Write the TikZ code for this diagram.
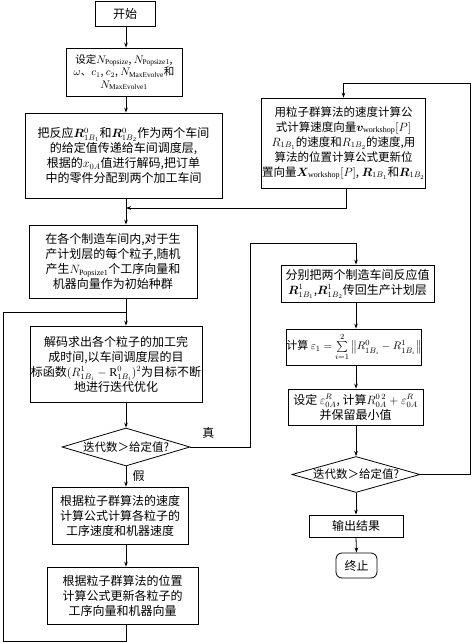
\documentclass[tikz,border=0pt]{standalone}
\usepackage{amsmath}
\usepackage{bm}
\usepackage{fontspec}
\setmainfont{Liberation Serif}
\newfontfamily\cjk{Noto Sans CJK SC}
\usetikzlibrary{shapes.geometric,arrows.meta}
\begin{document}
\begin{tikzpicture}[x=1pt,y=-1pt,
  box/.style={draw,line width=0.8pt,rectangle,inner sep=1pt,align=center,
    font=\cjk\fontsize{12}{15}\selectfont},
  dia/.style={draw,line width=0.8pt,diamond,aspect=3.4,inner sep=0pt,align=center,
    font=\cjk\fontsize{11.5}{14}\selectfont},
  rnd/.style={draw,line width=0.8pt,rectangle,rounded corners=6pt,inner sep=1pt,
    font=\cjk\fontsize{12}{15}\selectfont},
  arr/.style={line width=0.8pt,-{Stealth[length=5pt,width=3.6pt]}},
  ln/.style={line width=0.8pt},
  lab/.style={font=\cjk\fontsize{12}{14}\selectfont}]
\useasboundingbox (0,0) rectangle (473,643);

% left column
\node[box,minimum width=60,minimum height=25] (start) at (125,13.5) {开始};
\node[box,minimum width=116,minimum height=48,font=\cjk\fontsize{10.5}{12.5}\selectfont] (b2) at (124,72) {设定$N_{\mathrm{Popsize}}$, $N_{\mathrm{Popsize1}}$,\\$\omega$、$c_1$, $c_2$, $N_{\mathrm{MaxEvolve}}$和\\$N_{\mathrm{MaxEvolve1}}$};
\node[box,minimum width=197,minimum height=85] (b3) at (123.5,155.5) {把反应$\bm{R}^0_{1B_1}$和$\bm{R}^0_{1B_2}$作为两个车间\\的给定值传递给车间调度层,\\根据的$x_{0A}$值进行解码,把订单\\中的零件分配到两个加工车间};
\node[box,minimum width=168,minimum height=73] (b4) at (113,261.5) {在各个制造车间内,对于生\\产计划层的每个粒子,随机\\产生$N_{\mathrm{Popsize1}}$个工序向量和\\机器向量作为初始种群};
\node[box,minimum width=166,minimum height=76] (b5) at (116,364) {解码求出各个粒子的加工完\\成时间,以车间调度层的目\\标函数$(R^1_{1B_i}-\mathrm{R}^0_{1B_i})^2$为目标不断\\地进行迭代优化};
\node[dia,minimum width=128,minimum height=38] (d1) at (126,447) {迭代数＞给定值?};
\node[box,minimum width=136,minimum height=57] (b6) at (120,515.5) {根据粒子群算法的速度\\计算公式计算各粒子的\\工序速度和机器速度};
\node[box,minimum width=151,minimum height=57] (b7) at (122.5,595.5) {根据粒子群算法的位置\\计算公式更新各粒子的\\工序向量和机器向量};

% right column
\node[box,minimum width=157,minimum height=90,font=\cjk\fontsize{11.5}{15}\selectfont] (r0) at (343.5,143) {用粒子群算法的速度计算公\\式计算速度向量$\bm{v}_{\mathrm{workshop}}[P]$\\$R_{1B_1}$的速度和$R_{1B_2}$的速度,用\\算法的位置计算公式更新位\\置向量$\bm{X}_{\mathrm{workshop}}[P]$, $\bm{R}_{1B_1}$和$\bm{R}_{1B_2}$};
\node[box,minimum width=153,minimum height=37] (r1) at (357.5,283.5) {分别把两个制造车间反应值\\$\bm{R}^1_{1B_1}$,$\bm{R}^1_{1B_2}$传回生产计划层};
\node[box,minimum width=124,minimum height=36,inner sep=0pt,font=\cjk\fontsize{11}{13}\selectfont] (r2) at (354,347) {计算 $\varepsilon_1=\sum\limits_{i=1}^{2}\left\|R^0_{1B_i}-R^1_{1B_i}\right\|$};
\node[box,minimum width=135,minimum height=36] (r3) at (355.5,407) {设定 $\varepsilon^R_{0A}$, 计算$R^{0\,2}_{0A}+\varepsilon^R_{0A}$\\并保留最小值};
\node[dia,minimum width=128,minimum height=35] (d2) at (356,474.5) {迭代数＞给定值?};
\node[box,minimum width=94,minimum height=22] (out) at (356,526) {输出结果};
\node[rnd,minimum width=41,minimum height=25] (end) at (356.5,565.5) {终止};

% coordinates
\coordinate (cl) at (126,0);
\coordinate (cr) at (356,0);
\coordinate (j1) at (126,208);
\coordinate (j2) at (126,312);
\coordinate (l1) at (126,641);
\coordinate (l2) at (3,641);
\coordinate (l3) at (3,312);
\coordinate (t1) at (250,447);
\coordinate (t2) at (250,243);
\coordinate (t3) at (356,243);
\coordinate (s1) at (346,208);
\coordinate (g1) at (470,474.5);
\coordinate (g2) at (470,83);
\coordinate (g3) at (r0.north |- g2);

% left connectors
\draw[arr] (start.south -| cl) -- (b2.north -| cl);
\draw[arr] (b2.south -| cl) -- (b3.north -| cl);
\draw[arr] (b3.south -| cl) -- (b4.north -| cl);
\draw[arr] (b4.south -| cl) -- (b5.north -| cl);
\draw[arr] (b5.south -| cl) -- (d1.north);
\draw[arr] (d1.south) -- (b6.north -| d1.south) node[lab,pos=0.45,right=3pt] {假};
\draw[arr] (b6.south -| cl) -- (b7.north -| cl);
\draw[ln] (b7.south -| cl) -- (l1) -- (l2) -- (l3) -- (j2);

% true branch
\draw[arr] (d1.east) -- (t1) node[lab,pos=0.3,above=5pt] {真} -- (t2) -- (t3) -- (r1.north -| t3);

% right connectors
\draw[arr] (r1.south -| cr) -- (r2.north -| cr);
\draw[arr] (r2.south -| cr) -- (r3.north -| cr);
\draw[arr] (r3.south -| cr) -- (d2.north);
\draw[arr] (d2.south) -- (out.north);
\draw[arr] (out.south) -- (end.north);
\draw[arr] (d2.east) -- (g1) -- (g2) -- (g3) -- (r0.north);
\draw[arr] (r0.south -| s1) -- (s1) -- (j1);
\end{tikzpicture}
\end{document}
